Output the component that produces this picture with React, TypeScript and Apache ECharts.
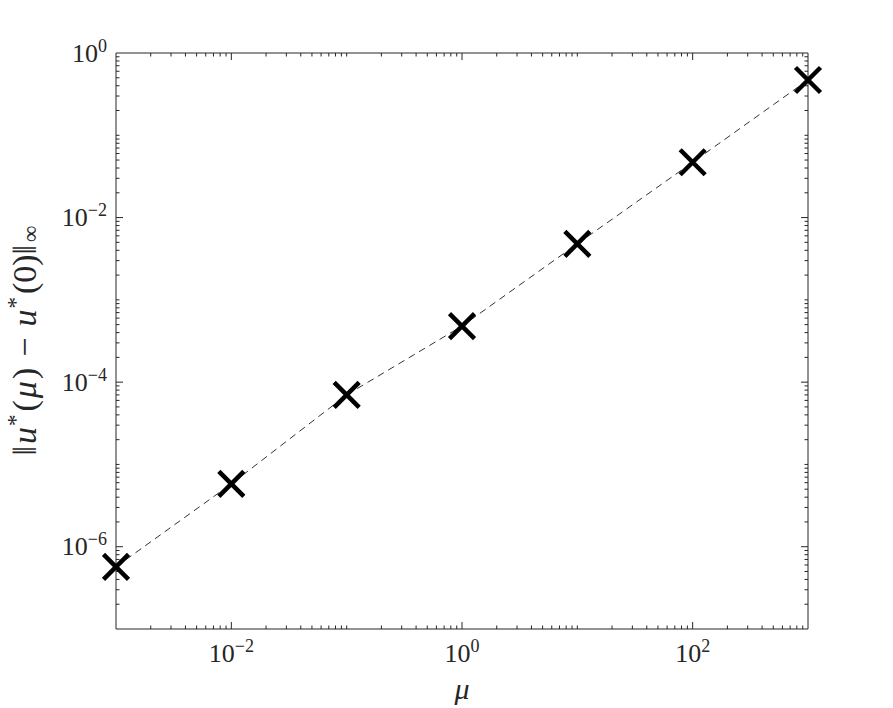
import React, { useEffect, useRef } from "react";
import * as echarts from "echarts";

const muValues = [1e-3, 1e-2, 1e-1, 1, 10, 100, 1000];
const errValues = [5.7e-7, 5.8e-6, 7.0e-5, 4.8e-4, 4.8e-3, 4.7e-2, 0.47];

const xMin = 1e-3;
const xMax = 1e3;
const yMin = 1e-7;
const yMax = 1;

const xMajorTicks = [1e-2, 1, 1e2];
const yMajorTicks = [1e-6, 1e-4, 1e-2];
const xDecades = [-3, -2, -1, 0, 1, 2];
const yDecades = [-7, -6, -5, -4, -3, -2, -1];
const minorMultipliers = [1, 2, 3, 4, 5, 6, 7, 8, 9];

function minorTicks(decades: number[], majors: number[], lo: number) {
  const out: number[] = [];
  decades.forEach((d) => {
    minorMultipliers.forEach((m) => {
      const v = m * Math.pow(10, d);
      const isMajor = majors.some((mj) => Math.abs(mj - v) / mj < 1e-9);
      const isEdge = Math.abs(v - lo) / lo < 1e-9;
      if (!isMajor && !isEdge) out.push(v);
    });
  });
  return out;
}

const FONT = "Liberation Serif";
const AXIS_COLOR = "#262626";

function supLabel(v: number) {
  const e = Math.round(Math.log10(v));
  if (e % 2 !== 0) return "";
  const s = e < 0 ? "\u2212" + -e : String(e);
  return "{b|10}{s|" + s + "}";
}

const labelRich = {
  b: { fontSize: 26, fontFamily: FONT, color: AXIS_COLOR },
  s: { fontSize: 18, fontFamily: FONT, color: AXIS_COLOR, padding: [0, 0, 15, 0] },
};

export default function App() {
  const ref = useRef<HTMLDivElement>(null);
  useEffect(() => {
    if (!ref.current) return;
    const chart = echarts.init(ref.current, null, { renderer: "svg" });
    const xMinor = minorTicks(xDecades, xMajorTicks, xMin);
    const yMinor = minorTicks(yDecades, yMajorTicks, yMin);

    const xTickSeries = (vals: number[], len: number) => ({
      type: "custom",
      silent: true,
      clip: false,
      z: 5,
      data: vals.map((v) => [v, yMin]),
      renderItem: (_p: any, api: any) => {
        const v = api.value(0);
        const b = api.coord([v, yMin]);
        const t = api.coord([v, yMax]);
        return {
          type: "group",
          children: [
            { type: "line", shape: { x1: b[0], y1: b[1], x2: b[0], y2: b[1] - len }, style: { stroke: AXIS_COLOR, lineWidth: 1 } },
            { type: "line", shape: { x1: t[0], y1: t[1], x2: t[0], y2: t[1] + len }, style: { stroke: AXIS_COLOR, lineWidth: 1 } },
          ],
        };
      },
    });
    const yTickSeries = (vals: number[], len: number) => ({
      type: "custom",
      silent: true,
      clip: false,
      z: 5,
      data: vals.map((v) => [xMin, v]),
      renderItem: (_p: any, api: any) => {
        const v = api.value(1);
        const l = api.coord([xMin, v]);
        const r = api.coord([xMax, v]);
        return {
          type: "group",
          children: [
            { type: "line", shape: { x1: l[0], y1: l[1], x2: l[0] + len, y2: l[1] }, style: { stroke: AXIS_COLOR, lineWidth: 1 } },
            { type: "line", shape: { x1: r[0], y1: r[1], x2: r[0] - len, y2: r[1] }, style: { stroke: AXIS_COLOR, lineWidth: 1 } },
          ],
        };
      },
    });

    chart.setOption({
      animation: false,
      backgroundColor: "#ffffff",
      grid: {
        left: 116,
        top: 53,
        width: 692,
        height: 576,
        show: true,
        borderColor: AXIS_COLOR,
        borderWidth: 1,
        containLabel: false,
        outerBoundsMode: "none",
      },
      xAxis: {
        type: "log",
        logBase: 10,
        min: xMin,
        max: xMax,
        interval: 1,
        splitLine: { show: false },
        axisLine: { show: false },
        axisTick: { show: false },
        axisLabel: {
          formatter: supLabel,
          rich: labelRich,
          margin: 8,
        },
        name: "\u03bc",
        nameLocation: "middle",
        nameGap: 44,
        nameTextStyle: { fontFamily: FONT, fontSize: 30, fontStyle: "italic", color: AXIS_COLOR },
      },
      yAxis: {
        type: "log",
        logBase: 10,
        min: yMin,
        max: yMax,
        interval: 1,
        splitLine: { show: false },
        axisLine: { show: false },
        axisTick: { show: false },
        axisLabel: {
          formatter: supLabel,
          rich: labelRich,
          margin: 9,
        },
        name: "{n|\u2016}{i|u}{p|*}{n|(}{i|\u03bc}{n|)}{m|\u2212}{i|u}{p|*}{n|(0)\u2016}{q|\u221e}",
        nameLocation: "middle",
        nameGap: 72,
        nameTextStyle: {
          fontFamily: FONT,
          fontSize: 34,
          color: AXIS_COLOR,
          rich: {
            n: { fontFamily: FONT, fontSize: 34, color: AXIS_COLOR, padding: [0, 1] },
            m: { fontFamily: FONT, fontSize: 34, color: AXIS_COLOR, padding: [0, 10] },
            i: { fontFamily: FONT, fontSize: 34, fontStyle: "italic", color: AXIS_COLOR, padding: [0, 1] },
            p: { fontFamily: FONT, fontSize: 23, color: AXIS_COLOR, padding: [0, 2, 17, 0] },
            q: { fontFamily: FONT, fontSize: 23, color: AXIS_COLOR, padding: [12, 0, 0, 2] },
          },
        },
      },
      series: [
        xTickSeries(xMajorTicks, 7),
        xTickSeries(xMinor, 3.5),
        yTickSeries(yMajorTicks, 7),
        yTickSeries(yMinor, 3.5),
        {
          type: "line",
          data: muValues.map((m, i) => [m, errValues[i]]),
          z: 10,
          symbol: "path://M0,0L10,10M10,0L0,10",
          symbolSize: 25,
          showSymbol: true,
          clip: false,
          lineStyle: { color: "#333333", width: 1, type: [7, 5] },
          itemStyle: { color: "#000000", borderColor: "#000000", borderWidth: 4.5 },
        },
      ],
    });
    return () => chart.dispose();
  }, []);
  return (
    <div
      ref={ref}
      style={{ position: "fixed", left: 0, top: 0, width: 893, height: 708 }}
    />
  );
}
